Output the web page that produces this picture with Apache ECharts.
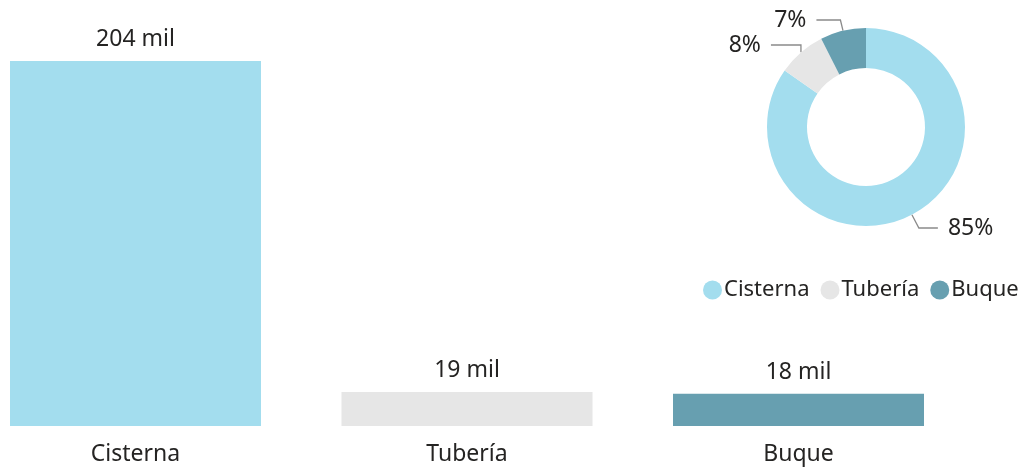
<!DOCTYPE html>
<html><head><meta charset="utf-8">
<script src="https://cdn.jsdelivr.net/npm/echarts@6/dist/echarts.min.js"></script>
<style>html,body{margin:0;padding:0;background:#fff}#c{width:1027px;height:469px}</style>
</head><body><div id="c"></div>
<script>
const categories = ['Cisterna', 'Tubería', 'Buque'];
const values = [204, 19, 18];
const colors = ['#A3DDEE', '#E6E6E6', '#679FB0'];
const FONT = 'Noto Sans';
const TEXT = '#252423';
const total = values.reduce((a, b) => a + b, 0);
const pieLines = [{length: 15, length2: 19}, {length: 10, length2: 30}, {length: 11, length2: 24}];

const chart = echarts.init(document.getElementById('c'), null, {renderer: 'canvas'});
chart.setOption({
  animation: false,
  textStyle: {fontFamily: FONT},
  grid: {left: 135.5, right: 228.5, top: 61, bottom: 43, containLabel: false},
  xAxis: {
    type: 'category', data: categories, boundaryGap: false,
    axisLine: {show: false}, axisTick: {show: false},
    axisLabel: {color: TEXT, fontSize: 23, fontFamily: FONT, margin: 17}
  },
  yAxis: {type: 'value', min: 0, max: 204, show: false, splitLine: {show: false}},
  legend: {
    data: categories, left: 698, top: 274, icon: 'circle', itemWidth: 19, itemHeight: 19, itemGap: 11,
    textStyle: {color: TEXT, fontSize: 22, fontFamily: FONT, padding: [0, 0, 0, -3]}
  },
  series: [
    {
      type: 'bar', barWidth: 251,
      data: values.map((v, i) => ({value: v, itemStyle: {color: colors[i]}})),
      label: {show: true, position: 'top', distance: 10, color: TEXT, fontSize: 23, fontFamily: FONT,
        formatter: p => p.value + ' mil'}
    },
    {
      type: 'pie', center: [866, 127], radius: [59, 99], startAngle: 90, clockwise: true,
      data: categories.map((c, i) => ({name: c, value: values[i], itemStyle: {color: colors[i]},
        labelLine: pieLines[i]})),
      label: {show: true, position: 'outside', color: TEXT, fontSize: 23, fontFamily: FONT, distanceToLabelLine: 10,
        formatter: p => Math.round(p.value / total * 100) + '%'},
      labelLine: {show: true, length: 10, length2: 20, lineStyle: {color: '#8a8a8a', width: 1.3}}
    }
  ]
});
</script></body></html>
